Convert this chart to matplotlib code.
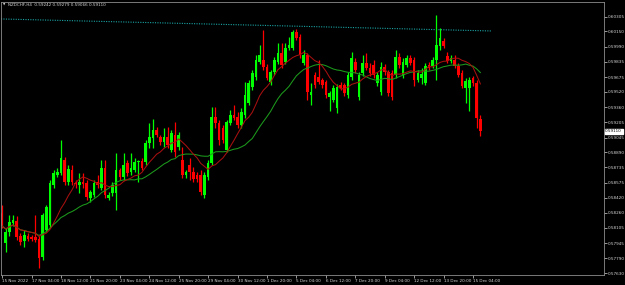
import numpy as np
import pandas as pd
import matplotlib
matplotlib.use("Agg")
import matplotlib.pyplot as plt

# NZDCHF H4 candles (15 Nov 2022 20:00 .. 15 Dec 2022 12:00)
opens = [
    0.58258, 0.57946, 0.58061, 0.58154, 0.58175, 0.58019, 0.57967, 0.58019, 0.58009, 0.58009,
    0.57988, 0.57800, 0.58081, 0.58134, 0.58550, 0.58655, 0.58675, 0.58811, 0.58582, 0.58707,
    0.58571, 0.58550, 0.58582, 0.58571, 0.58415, 0.58446, 0.58582, 0.58519, 0.58727, 0.58415,
    0.58467, 0.58467, 0.58707, 0.58634, 0.58780, 0.58686, 0.58707, 0.58790, 0.58800, 0.58790,
    0.58988, 0.59040, 0.59123, 0.59050, 0.58998, 0.59050, 0.58915, 0.59071, 0.58946, 0.58811,
    0.58655, 0.58759, 0.58686, 0.58655, 0.58655, 0.58446, 0.58634, 0.58780, 0.59259, 0.59196,
    0.59144, 0.58915, 0.59196, 0.59280, 0.59259, 0.59175, 0.59280, 0.59405, 0.59571, 0.59676,
    0.59832, 0.59853, 0.59780, 0.59624, 0.59728, 0.59832, 0.59926, 0.59832, 0.59978, 0.59978,
    0.60145, 0.60092, 0.59822, 0.59905, 0.59488, 0.59696, 0.59676, 0.59644, 0.59624, 0.59467,
    0.59436, 0.59353, 0.59592, 0.59592, 0.59488, 0.59676, 0.59832, 0.59467, 0.59717, 0.59822,
    0.59769, 0.59801, 0.59613, 0.59519, 0.59780, 0.59728, 0.59717, 0.59696, 0.59884, 0.59696,
    0.59801, 0.59874, 0.59853, 0.59644, 0.59665, 0.59613, 0.59801, 0.59790, 0.59853, 0.59999,
    0.60051, 0.59894, 0.59842, 0.59853, 0.59790, 0.59717, 0.59561, 0.59561, 0.59665, 0.59613,
    0.59242]

highs = [
    0.58342, 0.58102, 0.58238, 0.58238, 0.58227, 0.58050, 0.58081, 0.58050, 0.58029, 0.58238,
    0.58019, 0.58258, 0.58342, 0.58602, 0.58707, 0.58727, 0.59019, 0.58842, 0.58759, 0.58759,
    0.58602, 0.58675, 0.58675, 0.58602, 0.58498, 0.58602, 0.58655, 0.58811, 0.58811, 0.58477,
    0.58582, 0.58884, 0.58727, 0.58884, 0.58811, 0.58884, 0.58832, 0.58811, 0.58832, 0.59019,
    0.59196, 0.59238, 0.59155, 0.59071, 0.59144, 0.59155, 0.59123, 0.59207, 0.59103, 0.58946,
    0.58707, 0.58832, 0.58738, 0.58686, 0.58707, 0.58686, 0.58811, 0.59363, 0.59363, 0.59228,
    0.59175, 0.59228, 0.59332, 0.59384, 0.59311, 0.59353, 0.59624, 0.59644, 0.59749, 0.59905,
    0.60009, 0.60165, 0.59811, 0.59749, 0.59884, 0.60030, 0.60030, 0.60030, 0.60092, 0.60165,
    0.60176, 0.60124, 0.59957, 0.59926, 0.59613, 0.59728, 0.59853, 0.59665, 0.59644, 0.59530,
    0.59592, 0.59603, 0.59624, 0.59613, 0.59728, 0.59936, 0.59874, 0.59728, 0.59905, 0.59926,
    0.59822, 0.59853, 0.59728, 0.59832, 0.59811, 0.59749, 0.59749, 0.59957, 0.59926, 0.59874,
    0.59905, 0.59905, 0.59884, 0.59749, 0.59769, 0.59822, 0.59832, 0.59884, 0.60322, 0.60186,
    0.60082, 0.59936, 0.59905, 0.59905, 0.59822, 0.59749, 0.59665, 0.59676, 0.59686, 0.59644,
    0.59279]

lows = [
    0.58102, 0.57852, 0.58019, 0.58123, 0.57977, 0.57925, 0.57904, 0.57967, 0.57967, 0.57956,
    0.57685, 0.57769, 0.58061, 0.58102, 0.58519, 0.58634, 0.58655, 0.58550, 0.58550, 0.58550,
    0.58519, 0.58467, 0.58519, 0.58394, 0.58373, 0.58425, 0.58519, 0.58498, 0.58415, 0.58394,
    0.58436, 0.58290, 0.58602, 0.58602, 0.58644, 0.58655, 0.58686, 0.58582, 0.58707, 0.58759,
    0.58936, 0.58936, 0.59050, 0.58967, 0.58946, 0.58936, 0.58894, 0.58842, 0.58915, 0.58623,
    0.58623, 0.58602, 0.58582, 0.58582, 0.58446, 0.58415, 0.58602, 0.58759, 0.59144, 0.58967,
    0.58988, 0.58894, 0.59175, 0.59228, 0.59144, 0.59144, 0.59248, 0.59384, 0.59540, 0.59644,
    0.59811, 0.59749, 0.59644, 0.59592, 0.59696, 0.59811, 0.59769, 0.59811, 0.59957, 0.59957,
    0.60061, 0.59874, 0.59801, 0.59436, 0.59384, 0.59561, 0.59603, 0.59561, 0.59457, 0.59321,
    0.59415, 0.59300, 0.59540, 0.59478, 0.59457, 0.59644, 0.59717, 0.59436, 0.59686, 0.59749,
    0.59686, 0.59665, 0.59582, 0.59488, 0.59696, 0.59478, 0.59436, 0.59665, 0.59769, 0.59665,
    0.59780, 0.59801, 0.59582, 0.59624, 0.59603, 0.59592, 0.59749, 0.59769, 0.59644, 0.59957,
    0.59978, 0.59822, 0.59822, 0.59769, 0.59676, 0.59561, 0.59405, 0.59321, 0.59582, 0.59144,
    0.59066]

closes = [
    0.58123, 0.58061, 0.58165, 0.58186, 0.58009, 0.57956, 0.58029, 0.57988, 0.57988, 0.57977,
    0.57790, 0.58238, 0.58321, 0.58571, 0.58675, 0.58686, 0.58832, 0.58582, 0.58717, 0.58582,
    0.58561, 0.58582, 0.58561, 0.58425, 0.58477, 0.58571, 0.58550, 0.58727, 0.58446, 0.58446,
    0.58550, 0.58707, 0.58634, 0.58759, 0.58675, 0.58727, 0.58790, 0.58800, 0.58727, 0.58988,
    0.59050, 0.59123, 0.59071, 0.58998, 0.59050, 0.58967, 0.59092, 0.58894, 0.59071, 0.58655,
    0.58686, 0.58686, 0.58613, 0.58613, 0.58477, 0.58655, 0.58780, 0.59259, 0.59196, 0.59019,
    0.59019, 0.59207, 0.59280, 0.59248, 0.59175, 0.59311, 0.59488, 0.59613, 0.59717, 0.59853,
    0.59905, 0.59780, 0.59665, 0.59728, 0.59853, 0.59926, 0.59801, 0.59978, 0.60009, 0.60145,
    0.60082, 0.59905, 0.59905, 0.59519, 0.59519, 0.59592, 0.59624, 0.59592, 0.59488, 0.59509,
    0.59561, 0.59571, 0.59561, 0.59509, 0.59696, 0.59874, 0.59749, 0.59696, 0.59822, 0.59769,
    0.59717, 0.59696, 0.59696, 0.59780, 0.59728, 0.59509, 0.59467, 0.59884, 0.59801, 0.59832,
    0.59874, 0.59822, 0.59644, 0.59717, 0.59707, 0.59790, 0.59769, 0.59853, 0.60009, 0.60082,
    0.59999, 0.59842, 0.59874, 0.59790, 0.59696, 0.59582, 0.59634, 0.59644, 0.59613, 0.59248,
    0.59110]

xtick_bars = [0, 8, 16, 24, 32, 40, 48, 56, 64, 72, 80, 88, 96, 104, 112, 120, 128]
xtick_labels = ["15 Nov 2022", "17 Nov 04:00", "18 Nov 12:00", "21 Nov 20:00", "23 Nov 04:00",
                "24 Nov 12:00", "25 Nov 20:00", "29 Nov 04:00", "30 Nov 12:00", "1 Dec 20:00",
                "5 Dec 04:00", "6 Dec 12:00", "7 Dec 20:00", "9 Dec 04:00", "12 Dec 12:00",
                "13 Dec 20:00", "15 Dec 04:00"]
ytick_labels = ["0.60305", "0.60150", "0.59990", "0.59835", "0.59675", "0.59520", "0.59360",
                "0.59205", "0.59045", "0.58890", "0.58735", "0.58575", "0.58420", "0.58260",
                "0.58105", "0.57945", "0.57790", "0.57630"]

# dotted trend line (start / end price)
trend_x = [-0.3, 132.9]
trend_y = [0.60280, 0.60155]

df = pd.DataFrame({"open": opens, "high": highs, "low": lows, "close": closes})
df["ma_fast"] = df["close"].rolling(10, min_periods=1).mean()
df["ma_slow"] = df["close"].rolling(20, min_periods=1).mean()
x = np.arange(len(df))
up = df["close"] >= df["open"]
colors = np.where(up, "#00ff00", "#ff0000")

fg = "#d8d8d8"
fig = plt.figure(figsize=(6.25, 2.85), dpi=100, facecolor="black")
ax = fig.add_axes([0.0016, 0.0351, 0.9648, 0.958], facecolor="black")

ax.plot(trend_x, trend_y, color="#1aa3a3", lw=0.8, linestyle=(0, (1, 1.2)))

ax.vlines(x, df["low"], df["high"], colors=colors, lw=0.9)
ax.bar(x, df["close"] - df["open"], bottom=df["open"], width=0.72, color=colors, linewidth=0)

ax.plot(x, df["ma_slow"], color="#1c9a1c", lw=0.75)
ax.plot(x, df["ma_fast"], color="#a81010", lw=0.75)

ax.set_xlim(-0.3, 163.6)
ax.set_ylim(0.57613, 0.60457)

ax.yaxis.tick_right()
ax.set_yticks([float(v) for v in ytick_labels])
ax.set_yticklabels(ytick_labels)
ax.set_xticks(xtick_bars)
ax.set_xticklabels(xtick_labels, ha="left")
ax.tick_params(axis="both", colors=fg, labelsize=3, length=2, width=0.5, pad=1)
for s in ax.spines.values():
    s.set_color("#8c8c8c")
    s.set_linewidth(0.6)

# current price tag
ax.text(1.002, 0.59110, "0.59110", transform=ax.get_yaxis_transform(), fontsize=3,
        color="black", va="center", ha="left",
        bbox=dict(boxstyle="square,pad=0.15", fc="white", ec="white"))

fig.text(3.2 / 625, 1 - 5 / 285, "\u25bc", fontsize=2.2, color=fg, va="center", ha="left")
fig.text(8 / 625, 1 - 5 / 285, "NZDCHF,H4  0.59242 0.59279 0.59066 0.59110", fontsize=3,
         color=fg, va="center", ha="left")

fig.savefig("out.png", dpi=100, facecolor="black")
